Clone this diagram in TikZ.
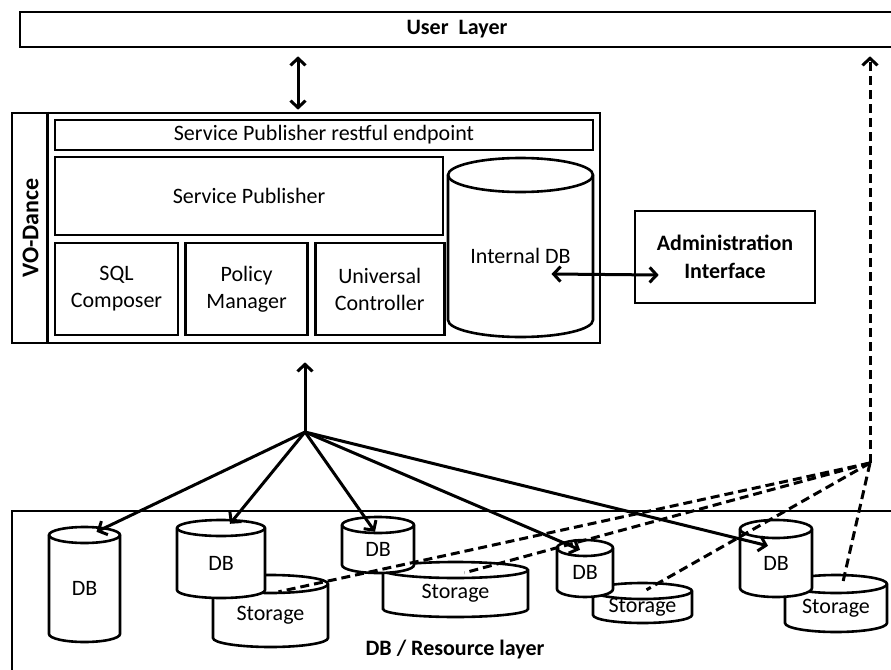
\documentclass[tikz,border=0pt]{standalone}
\usepackage{fontspec}
\setmainfont{Carlito}
\usetikzlibrary{calc,arrows.meta,positioning}

\tikzset{
  box/.style={draw, line width=2.6pt, inner sep=0pt, align=center, font=\fontsize{22}{27}\selectfont},
  boldbox/.style={box, font=\fontsize{22}{28}\selectfont\bfseries},
  txt/.style={inner sep=0pt, align=center, font=\fontsize{22}{27}\selectfont},
  btxt/.style={txt, font=\fontsize{22}{27}\selectfont\bfseries},
  cyl/.style={draw, line width=2.6pt, fill=white},
  link/.style={line width=3pt, ->},
  dlink/.style={link, dash pattern=on 9pt off 5pt},
}

\newcommand\dbcylinder[7]{%
  \draw[cyl] (#2,#4+#6) -- (#2,#5-#6)
    arc[start angle=180, end angle=0, x radius={(#3-#2)/2}, y radius=#6]
    -- (#3,#4+#6)
    arc[start angle=0, end angle=-180, x radius={(#3-#2)/2}, y radius=#6] -- cycle;
  \draw[cyl, fill=none] (#2,#4+#6) arc[start angle=180, end angle=0, x radius={(#3-#2)/2}, y radius=#6];
  \node[txt, minimum width={(#3-#2)*1pt}, minimum height={(#5-#4-#6)*1pt}] (#1) at ({(#2+#3)/2},{(#4+#6+#5)/2}) {#7};
}

\begin{document}
\begin{tikzpicture}[x=1pt, y=-1pt, >={Straight Barb[length=7pt,width=15pt]}]
        \useasboundingbox (0,0) rectangle (891,669);

        \node[boldbox, minimum width=874pt, minimum height=35pt] (UserLayer) at (457,29.5) {User\ \ Layer};

        \node[box, minimum width=588pt, minimum height=230pt] (VODance) at (306,228) {};
        \draw[line width=2.6pt] ($(VODance.north west)+(37,0)$) -- ($(VODance.south west)+(37,0)$);
        \node[btxt, rotate=90, font=\fontsize{24}{28}\selectfont\bfseries] (VOLabel) at (30.5,228) {VO-Dance};
        \node[box, minimum width=538pt, minimum height=30pt] (Restful) at (324,135) {Service Publisher restful endpoint};
        \node[box, minimum width=388pt, minimum height=78pt] (Publisher) at (249,196) {Service Publisher};
        \node[box, minimum width=123pt, minimum height=92pt] (SQL) at (116.5,289) {SQL\\Composer};
        \node[box, minimum width=122pt, minimum height=92pt, right=5pt of SQL] (Policy) {Policy\\Manager};
        \node[box, minimum width=129pt, minimum height=92pt, right=5pt of Policy] (Controller) {Universal\\Controller};
        \dbcylinder{InternalDB}{448}{593}{158}{337}{17}{Internal DB}

        \node[boldbox, minimum width=180pt, minimum height=92pt] (Admin) at (725,257) {Administration\\Interface};

        \node[box, minimum width=884pt, minimum height=170pt] (ResourceLayer) at (454,596) {};
        \node[btxt] (ResourceLabel) at (455,650) {DB / Resource layer};

        \dbcylinder{Storage2}{213}{328}{575}{647}{9}{Storage}
        \dbcylinder{Storage3}{383}{528}{562}{617}{8}{Storage}
        \dbcylinder{Storage4}{593}{692}{583}{623}{8}{Storage}
        \dbcylinder{Storage5}{785}{887}{575}{632}{9}{Storage}
        \dbcylinder{DB1}{49}{120}{527}{642}{8}{DB}
        \dbcylinder{DB2}{177}{265}{520}{598}{8}{DB}
        \dbcylinder{DB3}{342}{414}{517}{573}{8}{DB}
        \dbcylinder{DB4}{557}{613}{540}{597}{8}{DB}
        \dbcylinder{DB5}{740}{812}{520}{597}{9}{DB}

        \draw[link, <->] ($(VODance.north)+(-8,-2)$) -- ($(UserLayer.south -| VODance.north)+(-8,8)$);
        \draw[link, <->] ($(InternalDB.center)+(31,18)$) -- ($(Admin.west)+(25,18)$);

        \coordinate (Hub) at (305,432);
        \draw[link] (Hub) -- ($(VODance.south)+(-1,18)$);
        \draw[link] (Hub) -- ($(DB1.north)+(12,-3)$);
        \draw[link] (Hub) -- ($(DB2.north)+(9,-4)$);
        \draw[link] (Hub) -- ($(DB3.north)+(-3,7)$);
        \draw[link] (Hub) -- ($(DB4.north)+(-5,2)$);
        \draw[link] (Hub) -- ($(DB5.north)+(-8,17)$);

        \coordinate (Junction) at (870,463);
        \draw[dlink] (Junction) -- ($(UserLayer.south -| Junction)+(0,8)$);
        \draw[dlink, -] (Junction) -- ($(Storage2.north)+(8,8)$);
        \draw[dlink, -] (Junction) -- ($(Storage3.north)+(9,3)$);
        \draw[dlink, -] (Junction) -- ($(Storage4.north)+(4,-1)$);
        \draw[dlink, -] (Junction) -- ($(Storage5.north)+(7,-2)$);
    \end{tikzpicture}
\end{document}
